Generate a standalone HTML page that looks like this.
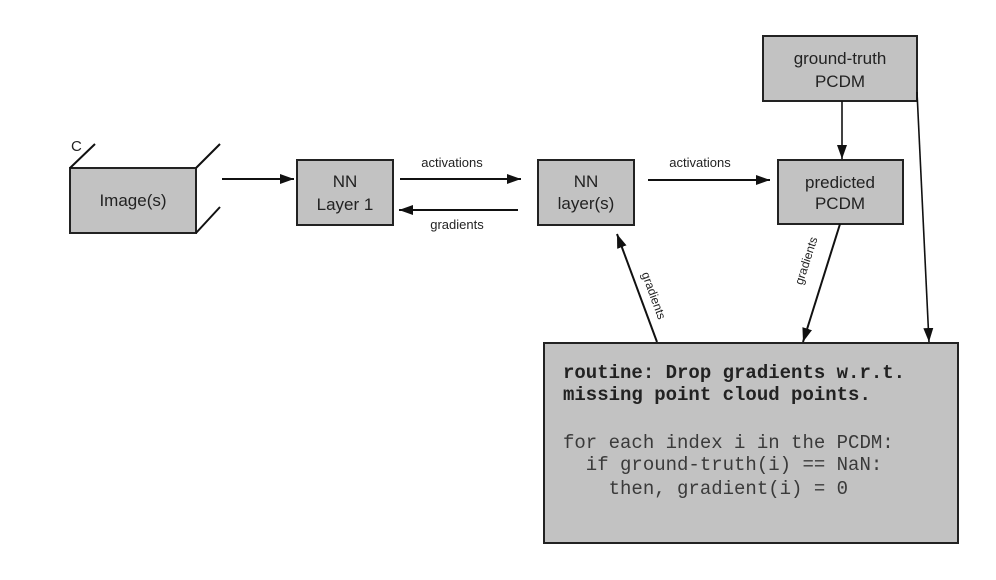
<!DOCTYPE html>
<html>
<head>
<meta charset="utf-8">
<style>
  html,body{margin:0;padding:0;background:#fff;}
  svg{display:block;}
  .lbl{font-family:"Liberation Sans",sans-serif;fill:#222;}
  .mono{font-family:"Liberation Mono","Courier New",monospace;fill:#222;font-size:19px;}
  .thin{fill:#3a3a3a;}
</style>
</head>
<body>
<svg width="996" height="580" viewBox="0 0 996 580" xmlns="http://www.w3.org/2000/svg">
  <defs>
    <marker id="ah" markerWidth="14" markerHeight="10" refX="14" refY="5" orient="auto" markerUnits="userSpaceOnUse">
      <path d="M0,0 L14,5 L0,10 Z" fill="#111"/>
    </marker>
  </defs>
  <rect width="996" height="580" fill="#fff"/>

  <!-- Image(s) cube -->
  <rect x="70" y="168" width="126" height="65" fill="#c2c2c2" stroke="#222" stroke-width="2"/>
  <line x1="70" y1="168" x2="95" y2="144" stroke="#111" stroke-width="2"/>
  <line x1="196" y1="168" x2="220" y2="144" stroke="#111" stroke-width="2"/>
  <line x1="196" y1="233" x2="220" y2="207" stroke="#111" stroke-width="2"/>
  <text x="71" y="151" class="lbl" font-size="15">C</text>
  <text x="133" y="206" class="lbl" font-size="17" text-anchor="middle">Image(s)</text>

  <!-- arrow image -> NN1 -->
  <line x1="222" y1="179" x2="294" y2="179" stroke="#111" stroke-width="2" marker-end="url(#ah)"/>

  <!-- NN Layer 1 -->
  <rect x="297" y="160" width="96" height="65" fill="#c2c2c2" stroke="#222" stroke-width="2"/>
  <text x="345" y="187" class="lbl" font-size="17" text-anchor="middle">NN</text>
  <text x="345" y="210" class="lbl" font-size="17" text-anchor="middle">Layer 1</text>

  <!-- activations / gradients between NN1 and NN layers -->
  <line x1="400" y1="179" x2="521" y2="179" stroke="#111" stroke-width="2" marker-end="url(#ah)"/>
  <text x="452" y="167" class="lbl" font-size="13" text-anchor="middle">activations</text>
  <line x1="518" y1="210" x2="399" y2="210" stroke="#111" stroke-width="2" marker-end="url(#ah)"/>
  <text x="457" y="229" class="lbl" font-size="13" text-anchor="middle">gradients</text>

  <!-- NN layer(s) -->
  <rect x="538" y="160" width="96" height="65" fill="#c2c2c2" stroke="#222" stroke-width="2"/>
  <text x="586" y="187" class="lbl" font-size="17" text-anchor="middle">NN</text>
  <text x="586" y="209" class="lbl" font-size="17" text-anchor="middle">layer(s)</text>

  <!-- activations to predicted -->
  <line x1="648" y1="180" x2="770" y2="180" stroke="#111" stroke-width="2" marker-end="url(#ah)"/>
  <text x="700" y="167" class="lbl" font-size="13" text-anchor="middle">activations</text>

  <!-- ground-truth PCDM -->
  <rect x="763" y="36" width="154" height="65" fill="#c2c2c2" stroke="#222" stroke-width="2"/>
  <text x="840" y="64" class="lbl" font-size="17" text-anchor="middle">ground-truth</text>
  <text x="840" y="87" class="lbl" font-size="17" text-anchor="middle">PCDM</text>

  <!-- gt -> predicted -->
  <line x1="842" y1="101" x2="842" y2="159" stroke="#111" stroke-width="1.6" marker-end="url(#ah)"/>

  <!-- predicted PCDM -->
  <rect x="778" y="160" width="125" height="64" fill="#c2c2c2" stroke="#222" stroke-width="2"/>
  <text x="840" y="188" class="lbl" font-size="17" text-anchor="middle">predicted</text>
  <text x="840" y="209" class="lbl" font-size="17" text-anchor="middle">PCDM</text>

  <!-- gt right -> routine -->
  <line x1="917" y1="92" x2="929" y2="342" stroke="#111" stroke-width="1.6" marker-end="url(#ah)"/>

  <!-- predicted -> routine gradients -->
  <line x1="840" y1="224" x2="803" y2="342" stroke="#111" stroke-width="2" marker-end="url(#ah)"/>
  <text x="0" y="0" class="lbl" font-size="12" text-anchor="middle" transform="translate(810,262) rotate(-72)">gradients</text>

  <!-- routine -> NN layers gradients -->
  <line x1="657" y1="342" x2="617" y2="234" stroke="#111" stroke-width="2" marker-end="url(#ah)"/>
  <text x="0" y="0" class="lbl" font-size="12" text-anchor="middle" transform="translate(650,297) rotate(70)">gradients</text>

  <!-- routine box -->
  <rect x="544" y="343" width="414" height="200" fill="#c2c2c2" stroke="#222" stroke-width="2"/>
  <text x="563" y="378" class="mono" font-weight="bold" xml:space="preserve">routine: Drop gradients w.r.t.</text>
  <text x="563" y="400" class="mono" font-weight="bold" xml:space="preserve">missing point cloud points.</text>
  <text x="563" y="448" class="mono thin" xml:space="preserve">for each index i in the PCDM:</text>
  <text x="563" y="470" class="mono thin" xml:space="preserve">  if ground-truth(i) == NaN:</text>
  <text x="563" y="494" class="mono thin" xml:space="preserve">    then, gradient(i) = 0</text>
</svg>
</body>
</html>
